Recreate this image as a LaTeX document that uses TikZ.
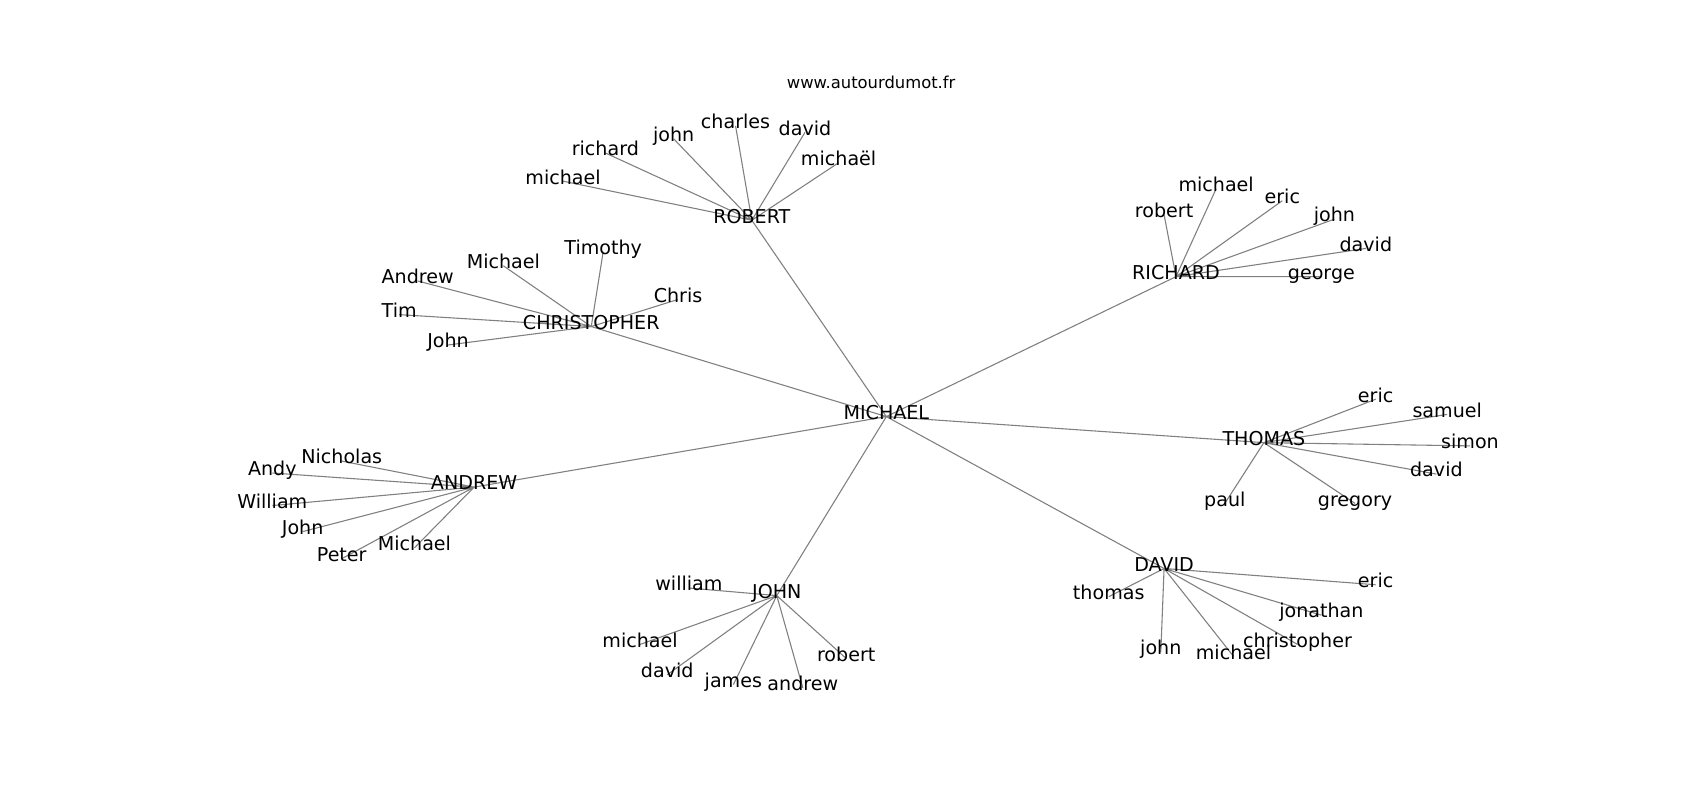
\documentclass[tikz,border=0pt]{standalone}
\usepackage{xcolor}
\usepackage{fontspec}
\setmainfont{DejaVu Sans}
\usepackage{tikz}
\usetikzlibrary{backgrounds}
\definecolor{edgegray}{HTML}{808080}
\definecolor{labelblack}{HTML}{000000}

\tikzset{
    namebox/.style={text=labelblack, inner sep=0pt, font=\fontsize{17.6}{20}\selectfont,
        text height=0.76em, text depth=0.24em},
    tie/.style={draw=edgegray, line width=1pt}
}

\begin{document}
\begin{tikzpicture}[x=1pt, y=-1pt]
    \useasboundingbox (0,-3) rectangle (1567,734);
    \node[text=labelblack, font=\fontsize{15.1}{18}\selectfont] (site) at (803,73) {www.autourdumot.fr};

    % hubs
    \node[namebox] (michael) at (817,381) {MICHAEL};
    \node[namebox] (robert) at (693,200) {ROBERT};
    \node[namebox] (christopher) at (545,298) {CHRISTOPHER};
    \node[namebox] (richard) at (1084,252) {RICHARD};
    \node[namebox] (thomas) at (1165,405) {THOMAS};
    \node[namebox] (david) at (1073,521) {DAVID};
    \node[namebox] (john) at (716,546) {JOHN};
    \node[namebox] (andrew) at (437,446) {ANDREW};

    % ROBERT
    \node[namebox] (rob1) at (519,164) {michael};
    \node[namebox] (rob2) at (558,138) {richard};
    \node[namebox] (rob3) at (621,125) {john};
    \node[namebox] (rob4) at (678,113) {charles};
    \node[namebox] (rob5) at (742,119) {david};
    \node[namebox] (rob6) at (773,147) {michaël};

    % CHRISTOPHER
    \node[namebox] (chr1) at (385,256) {Andrew};
    \node[namebox] (chr2) at (464,242) {Michael};
    \node[namebox] (chr3) at (556,229) {Timothy};
    \node[namebox] (chr4) at (625,273) {Chris};
    \node[namebox] (chr5) at (368,287) {Tim};
    \node[namebox] (chr6) at (413,315) {John};

    % RICHARD
    \node[namebox] (ric1) at (1121,171) {michael};
    \node[namebox] (ric2) at (1073,195) {robert};
    \node[namebox] (ric3) at (1182,182) {eric};
    \node[namebox] (ric4) at (1230,199) {john};
    \node[namebox] (ric5) at (1259,226) {david};
    \node[namebox] (ric6) at (1218,252) {george};

    % THOMAS
    \node[namebox] (tho1) at (1268,365) {eric};
    \node[namebox] (tho2) at (1334,379) {samuel};
    \node[namebox] (tho3) at (1355,408) {simon};
    \node[namebox] (tho4) at (1324,434) {david};
    \node[namebox] (tho5) at (1249,461) {gregory};
    \node[namebox] (tho6) at (1129,461) {paul};

    % DAVID
    \node[namebox] (dav1) at (1268,536) {eric};
    \node[namebox] (dav2) at (1022,547) {thomas};
    \node[namebox] (dav3) at (1218,564) {jonathan};
    \node[namebox] (dav4) at (1196,591) {christopher};
    \node[namebox] (dav5) at (1070,598) {john};
    \node[namebox] (dav6) at (1137,602) {michael};

    % JOHN
    \node[namebox] (joh1) at (635,539) {william};
    \node[namebox] (joh2) at (590,591) {michael};
    \node[namebox] (joh3) at (615,619) {david};
    \node[namebox] (joh4) at (676,628) {james};
    \node[namebox] (joh5) at (740,631) {andrew};
    \node[namebox] (joh6) at (780,604) {robert};

    % ANDREW
    \node[namebox] (and1) at (315,422) {Nicholas};
    \node[namebox] (and2) at (251,433) {Andy};
    \node[namebox] (and3) at (251,463) {William};
    \node[namebox] (and4) at (279,487) {John};
    \node[namebox] (and5) at (315,512) {Peter};
    \node[namebox] (and6) at (382,502) {Michael};

    \begin{scope}[on background layer]
        \draw[tie] (michael.center) -- (robert.center) (michael.center) -- (christopher.center)
            (michael.center) -- (richard.center) (michael.center) -- (thomas.center)
            (michael.center) -- (david.center) (michael.center) -- (john.center)
            (michael.center) -- (andrew.center);
        \draw[tie] (robert.center) -- (rob1.center) (robert.center) -- (rob2.center)
            (robert.center) -- (rob3.center) (robert.center) -- (rob4.center)
            (robert.center) -- (rob5.center) (robert.center) -- (rob6.center);
        \draw[tie] (christopher.center) -- (chr1.center) (christopher.center) -- (chr2.center)
            (christopher.center) -- (chr3.center) (christopher.center) -- (chr4.center)
            (christopher.center) -- (chr5.center) (christopher.center) -- (chr6.center);
        \draw[tie] (richard.center) -- (ric1.center) (richard.center) -- (ric2.center)
            (richard.center) -- (ric3.center) (richard.center) -- (ric4.center)
            (richard.center) -- (ric5.center) (richard.center) -- (ric6.center);
        \draw[tie] (thomas.center) -- (tho1.center) (thomas.center) -- (tho2.center)
            (thomas.center) -- (tho3.center) (thomas.center) -- (tho4.center)
            (thomas.center) -- (tho5.center) (thomas.center) -- (tho6.center);
        \draw[tie] (david.center) -- (dav1.center) (david.center) -- (dav2.center)
            (david.center) -- (dav3.center) (david.center) -- (dav4.center)
            (david.center) -- (dav5.center) (david.center) -- (dav6.center);
        \draw[tie] (john.center) -- (joh1.center) (john.center) -- (joh2.center)
            (john.center) -- (joh3.center) (john.center) -- (joh4.center)
            (john.center) -- (joh5.center) (john.center) -- (joh6.center);
        \draw[tie] (andrew.center) -- (and1.center) (andrew.center) -- (and2.center)
            (andrew.center) -- (and3.center) (andrew.center) -- (and4.center)
            (andrew.center) -- (and5.center) (andrew.center) -- (and6.center);
    \end{scope}
\end{tikzpicture}
\end{document}
